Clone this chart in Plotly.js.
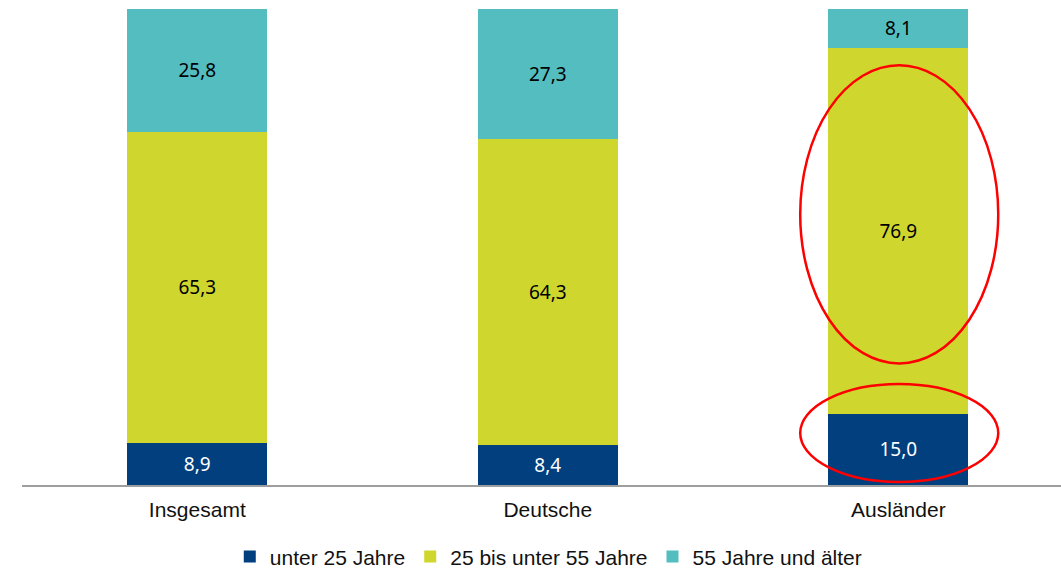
<!DOCTYPE html>
<html>
<head>
<meta charset="utf-8">
<script src="https://cdn.plot.ly/plotly-3.0.1.min.js"></script>
<style>html,body{margin:0;padding:0;background:#fff;}#chart{width:1061px;height:568px;}</style>
</head>
<body>
<div id="chart"></div>
<script>
const categories = ["Insgesamt", "Deutsche", "Ausländer"];
const seriesNames = ["unter 25 Jahre", "25 bis unter 55 Jahre", "55 Jahre und älter"];
const under25 = [8.9, 8.4, 15.0];
const from25to55 = [65.3, 64.3, 76.9];
const over55 = [25.8, 27.3, 8.1];
const colors = ["#023F7E", "#CFD72E", "#53BDC0"];
const labelColors = ["#ffffff", "#000000", "#000000"];

const fmt = v => v.toFixed(1).replace(".", ",");
const values = [under25, from25to55, over55];

const traces = values.map((vals, i) => ({
  type: "bar",
  name: seriesNames[i],
  x: categories,
  y: vals,
  text: vals.map(fmt),
  textposition: "inside",
  insidetextanchor: "middle",
  textangle: 0,
  constraintext: "none",
  insidetextfont: {family: "Noto Sans, sans-serif", size: 19, color: labelColors[i]},
  marker: {color: colors[i], line: {width: 0}},
  hoverinfo: "skip"
}));

const layout = {
  width: 1061,
  height: 568,
  barmode: "stack",
  bargap: 0.6,
  margin: {l: 22, r: 0, t: 9, b: 83, pad: 0, autoexpand: false},
  paper_bgcolor: "#ffffff",
  plot_bgcolor: "#ffffff",
  showlegend: true,
  font: {family: "Arial, Liberation Sans, sans-serif", size: 21, color: "#111"},
  xaxis: {
    type: "category",
    range: [-0.5, 2.464],
    showline: true,
    linecolor: "#9E9E9E",
    linewidth: 1.5,
    ticks: "",
    ticklabelstandoff: 5,
    showgrid: false,
    zeroline: false,
    automargin: false,
    tickfont: {family: "Arial, Liberation Sans, sans-serif", size: 21, color: "#111"},
    fixedrange: true
  },
  yaxis: {
    range: [0, 100],
    visible: false,
    showgrid: false,
    zeroline: false,
    fixedrange: true
  },
  legend: {
    orientation: "h",
    x: 0.507,
    xanchor: "center",
    y: -0.151,
    yanchor: "middle",
    font: {family: "Arial, Liberation Sans, sans-serif", size: 21, color: "#111"},
    traceorder: "normal"
  },
  shapes: [
    {type: "circle", xref: "x", yref: "y", x0: 1.72, x1: 2.285, y0: 25.55, y1: 88.18,
     line: {color: "#FF0000", width: 2.5}, fillcolor: "rgba(0,0,0,0)"},
    {type: "circle", xref: "x", yref: "y", x0: 1.72, x1: 2.285, y0: 0.63, y1: 21.2,
     line: {color: "#FF0000", width: 2.5}, fillcolor: "rgba(0,0,0,0)"}
  ]
};

Plotly.newPlot("chart", traces, layout, {displayModeBar: false, staticPlot: true});
</script>
</body>
</html>
